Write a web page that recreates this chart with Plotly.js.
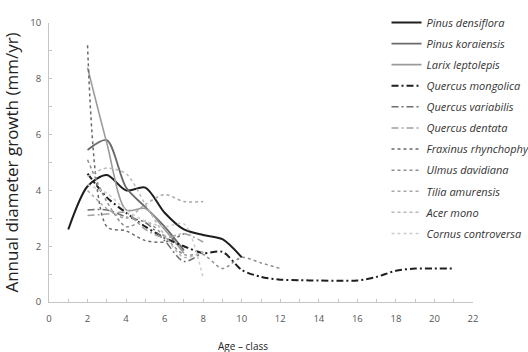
<!DOCTYPE html>
<html>
<head>
<meta charset="utf-8">
<script src="https://cdn.plot.ly/plotly-3.0.1.min.js"></script>
<style>
  html, body { margin: 0; padding: 0; background: #fff; }
  #chart { width: 528px; height: 352px; }
</style>
</head>
<body>
<div id="chart"></div>
<script>
// Annual diameter growth by age-class for eleven tree species
const speciesNames = [
  "Pinus densiflora", "Pinus koraiensis", "Larix leptolepis",
  "Quercus mongolica", "Quercus variabilis", "Quercus dentata",
  "Fraxinus rhynchophylla", "Ulmus davidiana", "Tilia amurensis",
  "Acer mono", "Cornus controversa"
];

const agePinusDensiflora = [1, 2, 3, 4, 5, 6, 7, 8, 9, 10];
const growthPinusDensiflora = [2.6, 4.15, 4.55, 4.0, 4.1, 3.2, 2.6, 2.4, 2.25, 1.6];

const agePinusKoraiensis = [2, 3, 4, 5, 6, 7];
const growthPinusKoraiensis = [5.45, 5.8, 4.1, 3.4, 2.7, 1.85];

const ageLarix = [2, 3, 4, 5, 6, 7];
const growthLarix = [8.4, 5.7, 3.3, 3.35, 2.6, 1.75];

const ageQuercusMongolica = [2, 3, 4, 5, 6, 7, 8, 9, 10, 11, 12, 13, 14, 15, 16, 17, 18, 19, 20, 21];
const growthQuercusMongolica = [4.6, 3.75, 3.2, 2.7, 2.3, 2.0, 1.75, 1.8, 1.15, 0.9, 0.8, 0.78, 0.77, 0.76, 0.77, 0.9, 1.12, 1.2, 1.2, 1.2];

const ageQuercusVariabilis = [2, 3, 4, 5, 6, 7, 8];
const growthQuercusVariabilis = [3.3, 3.3, 3.05, 2.85, 2.2, 1.45, 1.8];

const ageQuercusDentata = [2, 3, 4, 5, 6, 7, 8];
const growthQuercusDentata = [3.1, 3.15, 3.2, 2.6, 2.3, 2.45, 2.15];

const ageFraxinus = [2, 3, 4, 5, 6, 7];
const growthFraxinus = [9.2, 2.7, 2.55, 2.2, 2.15, 2.45];

const ageUlmus = [2, 3, 4, 5, 6, 7, 8, 9, 10, 11, 12];
const growthUlmus = [5.1, 3.6, 2.7, 2.9, 2.35, 1.7, 1.7, 1.2, 1.6, 1.4, 1.2];

const ageTilia = [2, 3, 4, 5, 6, 7, 8];
const growthTilia = [4.0, 3.35, 3.0, 3.5, 3.85, 3.6, 3.6];

const ageAcer = [2, 3, 4, 5, 6, 7, 8];
const growthAcer = [4.5, 4.8, 4.6, 3.5, 2.4, 1.6, 1.8];

const ageCornus = [2, 3, 4, 5, 6, 7, 8];
const growthCornus = [4.2, 3.9, 3.3, 2.9, 2.7, 2.8, 0.85];

const xTickValues = [0, 2, 4, 6, 8, 10, 12, 14, 16, 18, 20, 22];
const yTickValues = [0, 2, 4, 6, 8, 10];

const seriesX = [agePinusDensiflora, agePinusKoraiensis, ageLarix, ageQuercusMongolica,
  ageQuercusVariabilis, ageQuercusDentata, ageFraxinus, ageUlmus, ageTilia, ageAcer, ageCornus];
const seriesY = [growthPinusDensiflora, growthPinusKoraiensis, growthLarix, growthQuercusMongolica,
  growthQuercusVariabilis, growthQuercusDentata, growthFraxinus, growthUlmus, growthTilia, growthAcer, growthCornus];

// line styles: solid for conifers, dash-dot for oaks, dotted for the rest
const dashDot = "7px,3px,2px,3px";
const lineStyles = [
  { color: "#1e1e1e", width: 2,   dash: "solid" },
  { color: "#6a6a6a", width: 1.8, dash: "solid" },
  { color: "#9a9a9a", width: 1.6, dash: "solid" },
  { color: "#1e1e1e", width: 2,   dash: dashDot },
  { color: "#6e6e6e", width: 1.5, dash: dashDot },
  { color: "#a0a0a0", width: 1.5, dash: dashDot },
  { color: "#6a6a6a", width: 1.5, dash: "dot" },
  { color: "#8e8e8e", width: 1.5, dash: "dot" },
  { color: "#a8a8a8", width: 1.5, dash: "dot" },
  { color: "#b8b8b8", width: 1.5, dash: "dot" },
  { color: "#cccccc", width: 1.5, dash: "dot" }
];

const traces = speciesNames.map((name, i) => ({
  type: "scatter",
  mode: "lines",
  name: name,
  legendgroup: "g" + i,
  x: seriesX[i],
  y: seriesY[i],
  line: { color: lineStyles[i].color, width: lineStyles[i].width, dash: lineStyles[i].dash,
          shape: "spline", smoothing: 0.8 },
  hoverinfo: "skip"
}));

const axisColor = "#c4c4c4";
const fontFamily = "Open Sans, Noto Sans, sans-serif";
const tickFont = { family: fontFamily, size: 9.5, color: "#555" };

const layout = {
  width: 528,
  height: 352,
  // fixed margins so the legend may run past the right edge
  margin: { l: 49.3, r: 55.3, t: 22.7, b: 50.3, autoexpand: false },
  paper_bgcolor: "#fff",
  plot_bgcolor: "#fff",
  showlegend: true,
  legend: {
    x: 0.796, xanchor: "left",
    y: 1.054, yanchor: "top",
    bgcolor: "rgba(0,0,0,0)",
    tracegroupgap: 2.1,
    itemwidth: 30,
    maxheight: 1,
    font: { family: fontFamily, size: 11, color: "#333", style: "italic" }
  },
  xaxis: {
    range: [0, 22],
    tickmode: "array",
    tickvals: xTickValues,
    showgrid: false,
    zeroline: false,
    showline: true,
    linecolor: axisColor,
    linewidth: 1,
    ticks: "inside",
    ticklen: 3,
    tickcolor: axisColor,
    ticklabelstandoff: 8,
    minor: { dtick: 1, ticks: "inside", ticklen: 3, tickcolor: axisColor, showgrid: false },
    tickfont: tickFont
  },
  yaxis: {
    range: [0, 10],
    tickmode: "array",
    tickvals: yTickValues,
    showgrid: false,
    zeroline: false,
    showline: true,
    linecolor: axisColor,
    linewidth: 1,
    ticks: "inside",
    ticklen: 3,
    tickcolor: axisColor,
    ticklabelstandoff: 5,
    minor: { dtick: 1, ticks: "inside", ticklen: 3, tickcolor: axisColor, showgrid: false },
    tickfont: tickFont,
    title: { text: "Annual diameter growth (mm/yr)", standoff: 10,
             font: { family: fontFamily, size: 17, color: "#222" } }
  },
  annotations: [{
    text: "Age \u2013 class",
    xref: "paper", yref: "paper",
    x: 0.458, y: -0.158,
    xanchor: "center", yanchor: "middle",
    showarrow: false,
    font: { family: fontFamily, size: 10, color: "#222" }
  }]
};

Plotly.newPlot("chart", traces, layout, { displayModeBar: false, staticPlot: true });
</script>
</body>
</html>
